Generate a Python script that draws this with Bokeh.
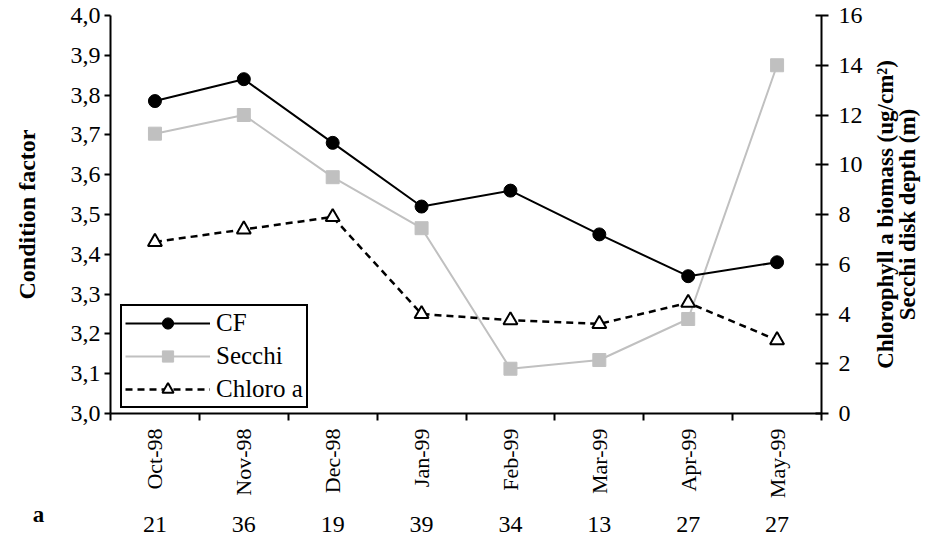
import numpy as np
from bokeh.plotting import figure
from bokeh.layouts import row
from bokeh.models import (Range1d, LinearAxis, FixedTicker, CustomJSTickFormatter,
                          Legend, LegendItem)
from bokeh.core.properties import value
from bokeh.embed import file_html
from bokeh.resources import INLINE

categories = ["Oct-98", "Nov-98", "Dec-98", "Jan-99", "Feb-99", "Mar-99", "Apr-99", "May-99"]
cf = [3.785, 3.84, 3.68, 3.52, 3.56, 3.45, 3.345, 3.38]
secchi = [11.25, 12.0, 9.5, 7.45, 1.8, 2.15, 3.8, 14.0]
chloro = [6.9, 7.4, 7.9, 4.0, 3.75, 3.6, 4.45, 2.95]
counts = ["21", "36", "19", "39", "34", "13", "27", "27"]
left_ticks = [3.0, 3.1, 3.2, 3.3, 3.4, 3.5, 3.6, 3.7, 3.8, 3.9, 4.0]
right_ticks = [0, 2, 4, 6, 8, 10, 12, 14, 16]
left_title = "Condition factor"
right_title_lines = ["Chlorophyll a biomass (ug/cm\u00b2)", "Secchi disk depth (m)"]
panel_tag = "a"

x = [i + 0.5 for i in range(len(categories))]
bounds = list(range(len(categories) + 1))

FONT = "Liberation Serif"
GREY = "#c0c0c0"
W, H = 925, 543
TOP, BOTTOM = 15, 130
LEFT_W = 50          # left strip: y title + panel tag
FRAME_L, FRAME_R = 110, 821
MAIN_W = 868 - LEFT_W

left_range = Range1d(3.0, 4.0)
right_range = Range1d(0, 16)

# ---------- left strip ----------
p0 = figure(width=LEFT_W, height=H, output_backend="svg", toolbar_location=None,
            x_range=Range1d(0, LEFT_W), y_range=Range1d(left_range.start, left_range.end),
            x_axis_location=None, y_axis_location=None,
            min_border_left=0, min_border_right=0, min_border_top=TOP, min_border_bottom=BOTTOM)
p0.outline_line_color = None
p0.xgrid.visible = False
p0.ygrid.visible = False
lmid = (left_range.start + left_range.end) / 2
p0.text(x=[26], y=[lmid], text=[left_title], angle=np.pi / 2,
        text_align="center", text_baseline="middle", text_font=value(FONT),
        text_font_style="bold", text_font_size="24px", text_color="black")
tag_axis = LinearAxis(ticker=FixedTicker(ticks=[38], minor_ticks=[]))
tag_axis.major_label_overrides = {38: panel_tag}
tag_axis.axis_line_color = None
tag_axis.major_tick_out = 0
tag_axis.major_tick_in = 0
tag_axis.major_label_text_font = FONT
tag_axis.major_label_text_font_style = "bold"
tag_axis.major_label_text_font_size = "23px"
tag_axis.major_label_text_color = "black"
tag_axis.major_label_standoff = 88
p0.add_layout(tag_axis, "below")

# ---------- main plot ----------
p = figure(width=MAIN_W, height=H, output_backend="svg", toolbar_location=None,
           x_range=Range1d(0, len(categories)), y_range=left_range,
           min_border_left=FRAME_L - LEFT_W, min_border_right=MAIN_W - (FRAME_R - LEFT_W),
           min_border_top=TOP, min_border_bottom=BOTTOM)
p.outline_line_color = None
p.xgrid.visible = False
p.ygrid.visible = False
p.background_fill_color = "white"

ya = p.yaxis[0]
ya.ticker = FixedTicker(ticks=left_ticks, minor_ticks=[])
ya.formatter = CustomJSTickFormatter(code="return tick.toFixed(1).replace('.', ',');")
ya.major_tick_out = 6
ya.major_tick_in = 0
ya.major_tick_line_width = 2
ya.axis_line_width = 2
ya.major_label_text_font = FONT
ya.major_label_text_font_size = "24px"
ya.major_label_text_color = "black"
ya.major_label_standoff = 4

xa = p.xaxis[0]
xa.ticker = FixedTicker(ticks=x, minor_ticks=bounds)
xa.major_label_overrides = {xi: c for xi, c in zip(x, categories)}
xa.major_label_orientation = np.pi / 2
xa.major_tick_out = 0
xa.major_tick_in = 0
xa.minor_tick_out = 7
xa.minor_tick_in = 0
xa.minor_tick_line_width = 2
xa.minor_tick_line_color = "black"
xa.axis_line_width = 2
xa.major_label_text_font = FONT
xa.major_label_text_font_size = "22px"
xa.major_label_text_color = "black"
xa.major_label_standoff = 8

ca = LinearAxis(ticker=FixedTicker(ticks=x, minor_ticks=[]))
ca.major_label_overrides = {xi: c for xi, c in zip(x, counts)}
ca.axis_line_color = None
ca.major_tick_out = 0
ca.major_tick_in = 0
ca.major_label_text_font = FONT
ca.major_label_text_font_size = "24px"
ca.major_label_text_color = "black"
ca.major_label_standoff = 15
p.add_layout(ca, "below")

p.extra_y_ranges = {"r": right_range}
ra = LinearAxis(y_range_name="r", ticker=FixedTicker(ticks=right_ticks, minor_ticks=[]))
ra.major_tick_out = 7
ra.major_tick_in = 6
ra.major_tick_line_width = 2
ra.axis_line_width = 2
ra.major_label_text_font = FONT
ra.major_label_text_font_size = "24px"
ra.major_label_text_color = "black"
ra.major_label_standoff = 10
p.add_layout(ra, "right")

l2 = p.line(x, secchi, y_range_name="r", line_color=GREY, line_width=2)
s2 = p.scatter(x, secchi, y_range_name="r", marker="square", size=13,
               fill_color=GREY, line_color=GREY)
l3 = p.line(x, chloro, y_range_name="r", line_color="black", line_width=2.5, line_dash="7 5")
s3 = p.scatter(x, chloro, y_range_name="r", marker="triangle", size=14,
               fill_color="white", line_color="black", line_width=2)
l1 = p.line(x, cf, line_color="black", line_width=2)
s1 = p.scatter(x, cf, marker="circle", size=13, fill_color="black", line_color="black")

legend = Legend(items=[LegendItem(label="CF", renderers=[l1, s1]),
                       LegendItem(label="Secchi", renderers=[l2, s2]),
                       LegendItem(label="Chloro a", renderers=[l3, s3])],
                location=(10, 5))
legend.border_line_color = "black"
legend.border_line_alpha = 1.0
legend.border_line_width = 2
legend.background_fill_color = "white"
legend.background_fill_alpha = 1
legend.label_text_font = FONT
legend.label_text_font_size = "25px"
legend.label_text_color = "black"
legend.glyph_width = 85
legend.glyph_height = 28
legend.label_height = 28
legend.label_standoff = 6
legend.spacing = 5
legend.padding = 3
legend.margin = 0
p.add_layout(legend)

# ---------- right strip: two-line title ----------
p2 = figure(width=W - 868, height=H, output_backend="svg", toolbar_location=None,
            x_range=Range1d(0, 1), y_range=Range1d(right_range.start, right_range.end),
            x_axis_location=None, y_axis_location=None,
            min_border_left=0, min_border_right=0, min_border_top=TOP, min_border_bottom=BOTTOM)
p2.outline_line_color = None
p2.xgrid.visible = False
p2.ygrid.visible = False
mid = (right_range.start + right_range.end) / 2
p2.text(x=[0.30, 0.69], y=[mid, mid], text=right_title_lines, angle=np.pi / 2,
        text_align="center", text_baseline="middle", text_font=value(FONT),
        text_font_style="bold", text_font_size="23px", text_color="black")

layout = row(p0, p, p2)
open("out.html", "w").write(file_html(layout, INLINE))
